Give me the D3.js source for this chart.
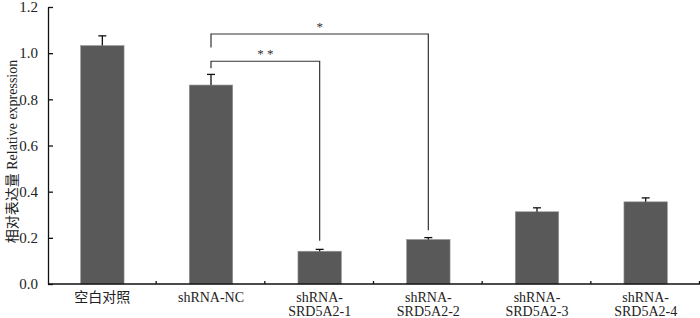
<!DOCTYPE html>
<html>
<head>
<meta charset="utf-8">
<script src="https://cdn.jsdelivr.net/npm/d3@7"></script>
<style>
  body { margin: 0; background: #fff; }
  text { font-family: "Liberation Serif", "Times New Roman", serif; }
</style>
</head>
<body>
<svg id="chart"></svg>
<script>
// groups and measured values
const categories = ["空白对照", "shRNA-NC", "shRNA-\nSRD5A2-1", "shRNA-\nSRD5A2-2", "shRNA-\nSRD5A2-3", "shRNA-\nSRD5A2-4"];
const values = [1.033, 0.862, 0.142, 0.193, 0.313, 0.356];
const errors = [0.042, 0.046, 0.008, 0.008, 0.017, 0.017];
const yTicks = [0, 0.2, 0.4, 0.6, 0.8, 1.0, 1.2];

// significance brackets: from group, to group, level, left end, right end, label
const brackets = [
    { from: 1, to: 2, level: 0.965, leftEnd: 0.935, rightEnd: 0.187, label: "* *" },
    { from: 1, to: 3, level: 1.083, leftEnd: 1.025, rightEnd: 0.233, label: "*" }
];

const width = 700, height = 318;
const margin = { top: 7, right: 0, bottom: 34, left: 48 };

const svg = d3.select("#chart")
    .attr("width", width)
    .attr("height", height);

const x = d3.scaleBand()
    .domain(d3.range(categories.length))
    .range([margin.left, width - margin.right])
    .paddingInner(0.6)
    .paddingOuter(0.3);

const y = d3.scaleLinear()
    .domain([0, 1.2])
    .range([height - margin.bottom, margin.top]);

const step = x.step();
const center = i => x(i) + x.bandwidth() / 2;

// bars
svg.append("g")
    .selectAll("rect")
    .data(values)
    .join("rect")
    .attr("x", (d, i) => x(i))
    .attr("y", d => y(d))
    .attr("width", x.bandwidth())
    .attr("height", d => y(0) - y(d))
    .attr("fill", "#595959")
    .attr("stroke", "#9a9a9a")
    .attr("stroke-width", 0.6);

// error bars (upper only)
const eb = svg.append("g").attr("stroke", "#111").attr("stroke-width", 1.3);
values.forEach((v, i) => {
    const cx = center(i);
    eb.append("line")
        .attr("x1", cx).attr("x2", cx)
        .attr("y1", y(v)).attr("y2", y(v + errors[i]));
    eb.append("line")
        .attr("x1", cx - 4).attr("x2", cx + 4)
        .attr("y1", y(v + errors[i])).attr("y2", y(v + errors[i]));
});

// y axis
const yAxis = svg.append("g")
    .attr("transform", `translate(${margin.left},0)`)
    .call(d3.axisLeft(y).tickValues(yTicks).tickFormat(d3.format(".1f")).tickSizeInner(-5).tickSizeOuter(0).tickPadding(10));
yAxis.select(".domain").attr("stroke", "#111").attr("stroke-width", 1.3);
yAxis.selectAll(".tick line").attr("stroke", "#111").attr("stroke-width", 1.3);
yAxis.selectAll(".tick text")
    .attr("font-size", 15)
    .attr("fill", "#222")
    .style("font-family", "'Liberation Serif', serif");

// x axis line with small inward ticks at band boundaries
svg.append("line")
    .attr("x1", margin.left).attr("x2", width)
    .attr("y1", y(0)).attr("y2", y(0))
    .attr("stroke", "#111").attr("stroke-width", 1.3);
svg.append("g")
    .selectAll("line")
    .data(d3.range(1, categories.length + 1))
    .join("line")
    .attr("x1", i => margin.left + i * step - 0.5)
    .attr("x2", i => margin.left + i * step - 0.5)
    .attr("y1", y(0))
    .attr("y2", y(0) - 3)
    .attr("stroke", "#111")
    .attr("stroke-width", 1.3);

// x labels
const xl = svg.append("g")
    .selectAll("text")
    .data(categories)
    .join("text")
    .attr("x", (d, i) => center(i))
    .attr("y", 302)
    .attr("text-anchor", "middle")
    .attr("font-size", 14)
    .attr("fill", "#222");
xl.each(function (d) {
    const lines = d.split("\n");
    const t = d3.select(this);
    lines.forEach((s, k) => {
        t.append("tspan")
            .attr("x", t.attr("x"))
            .attr("dy", k === 0 ? 0 : 14)
            .style("font-family", /[\u4e00-\u9fff]/.test(s) ? "'Noto Sans CJK SC', sans-serif" : "'Liberation Serif', serif")
            .text(s);
    });
});

// brackets
const br = svg.append("g").attr("fill", "none").attr("stroke", "#333").attr("stroke-width", 1.2);
brackets.forEach(b => {
    const x1 = center(b.from), x2 = center(b.to);
    br.append("path")
        .attr("d", `M${x1},${y(b.leftEnd)}V${y(b.level)}H${x2}V${y(b.rightEnd)}`);
    svg.append("text")
        .attr("x", (x1 + x2) / 2)
        .attr("y", y(b.level) - 3)
        .attr("text-anchor", "middle")
        .attr("font-size", 13)
        .attr("fill", "#333")
        .text(b.label);
});

// y axis title
const yt = svg.append("text")
    .attr("transform", `translate(17,${(y(0) + y(1.2)) / 2 + 6}) rotate(-90)`)
    .attr("text-anchor", "middle")
    .attr("font-size", 14)
    .attr("fill", "#222");
yt.append("tspan").style("font-family", "'Noto Sans CJK SC', sans-serif").text("相对表达量");
yt.append("tspan").style("font-family", "'Liberation Serif', serif").text("  Relative expression");
</script>
</body>
</html>
